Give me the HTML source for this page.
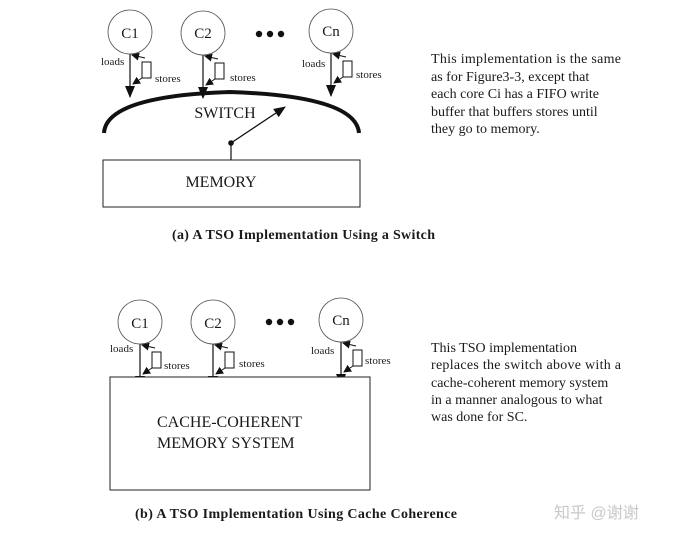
<!DOCTYPE html>
<html><head><meta charset="utf-8"><style>
html,body{margin:0;padding:0;background:#fff;}
svg{display:block;}
text{font-family:"Liberation Serif",serif;fill:#1a1a1a;}
</style></head><body>
<svg width="676" height="537" viewBox="0 0 676 537" xmlns="http://www.w3.org/2000/svg">
<defs>
<marker id="ah" markerWidth="8" markerHeight="8" refX="7" refY="4" orient="auto" markerUnits="userSpaceOnUse">
<path d="M0,0 L8,4 L0,8 Z" fill="#111"/></marker>
<marker id="ahb" markerWidth="12" markerHeight="10" refX="11" refY="5" orient="auto" markerUnits="userSpaceOnUse">
<path d="M0,0 L12,5 L0,10 Z" fill="#111"/></marker>
<g id="core">
<circle cx="0" cy="0" r="22" fill="none" stroke="#555" stroke-width="0.8"/>
<line x1="0" y1="22" x2="0" y2="65" stroke="#111" stroke-width="1.2" marker-end="url(#ahb)"/>
<line x1="15" y1="26" x2="2" y2="23" stroke="#111" stroke-width="1" marker-end="url(#ah)"/>
<rect x="12" y="30" width="9" height="16" fill="#fff" stroke="#111" stroke-width="1"/>
<line x1="12" y1="46" x2="3" y2="52" stroke="#111" stroke-width="1" marker-end="url(#ah)"/>
</g>
</defs>

<!-- (a) -->
<use href="#core" x="130" y="32"/>
<use href="#core" x="203" y="33"/>
<use href="#core" x="331" y="31"/>
<text x="130" y="38" font-size="15" text-anchor="middle">C1</text>
<text x="203" y="38" font-size="15" text-anchor="middle">C2</text>
<text x="331" y="36" font-size="15" text-anchor="middle">Cn</text>
<circle cx="259" cy="34" r="3.2" fill="#111"/><circle cx="270" cy="34" r="3.2" fill="#111"/><circle cx="281" cy="34" r="3.2" fill="#111"/>
<text x="101" y="65" font-size="11">loads</text>
<text x="155" y="82" font-size="11">stores</text>
<text x="230" y="81" font-size="11">stores</text>
<text x="302" y="67" font-size="11">loads</text>
<text x="356" y="78" font-size="11">stores</text>
<path d="M104,133 Q106,96 230,92 Q356,96 359,133" fill="none" stroke="#111" stroke-width="4"/>
<text x="225" y="118" font-size="16" text-anchor="middle">SWITCH</text>
<rect x="103" y="160" width="257" height="47" fill="#fff" stroke="#222" stroke-width="1"/>
<text x="221" y="187" font-size="16" text-anchor="middle">MEMORY</text>
<line x1="231" y1="143" x2="231" y2="160" stroke="#111" stroke-width="1.2"/>
<circle cx="231" cy="143" r="2.8" fill="#111"/>
<line x1="231" y1="143" x2="285" y2="107" stroke="#111" stroke-width="1.3" marker-end="url(#ahb)"/>
<text x="172" y="239" font-size="14" font-weight="bold" textLength="263">(a) A TSO Implementation Using a Switch</text>
<g font-size="14">
<text x="431" y="63" textLength="190">This implementation is the same</text>
<text x="431" y="81">as for Figure3-3, except that</text>
<text x="431" y="98">each core Ci has a FIFO write</text>
<text x="431" y="116">buffer that buffers stores until</text>
<text x="431" y="133">they go to memory.</text>
</g>

<!-- (b) -->
<use href="#core" x="140" y="322"/>
<use href="#core" x="213" y="322"/>
<use href="#core" x="341" y="320"/>
<text x="140" y="328" font-size="15" text-anchor="middle">C1</text>
<text x="213" y="328" font-size="15" text-anchor="middle">C2</text>
<text x="341" y="325" font-size="15" text-anchor="middle">Cn</text>
<circle cx="269" cy="322" r="3.2" fill="#111"/><circle cx="280" cy="322" r="3.2" fill="#111"/><circle cx="291" cy="322" r="3.2" fill="#111"/>
<text x="110" y="352" font-size="11">loads</text>
<text x="164" y="369" font-size="11">stores</text>
<text x="239" y="367" font-size="11">stores</text>
<text x="311" y="354" font-size="11">loads</text>
<text x="365" y="364" font-size="11">stores</text>
<rect x="110" y="377" width="260" height="113" fill="#fff" stroke="#222" stroke-width="1"/>
<text x="157" y="427" font-size="16">CACHE-COHERENT</text>
<text x="157" y="448" font-size="16">MEMORY SYSTEM</text>
<text x="135" y="518" font-size="14" font-weight="bold" textLength="322">(b) A TSO Implementation Using Cache Coherence</text>
<g font-size="14">
<text x="431" y="352">This TSO implementation</text>
<text x="431" y="369" textLength="190">replaces the switch above with a</text>
<text x="431" y="387">cache-coherent memory system</text>
<text x="431" y="404">in a manner analogous to what</text>
<text x="431" y="421">was done for SC.</text>
</g>
<text x="554" y="518" font-size="16" style="font-family:'Liberation Sans','Noto Sans CJK SC',sans-serif;fill:#c8c8c8">知乎 @谢谢</text>
</svg>
</body></html>
